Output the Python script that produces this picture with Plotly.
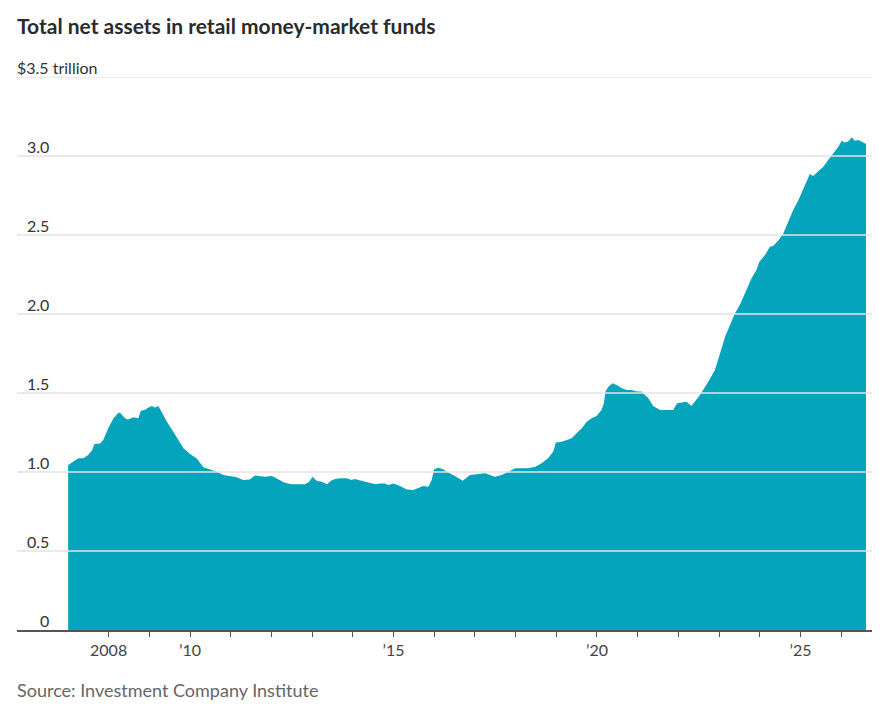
import plotly.graph_objects as go

# ICI retail money-market fund net assets, $ trillion
dates = [
    "2007-01-03", "2007-02-17", "2007-04-05", "2007-05-19", "2007-07-02", "2007-08-08",
    "2007-08-26", "2007-10-16", "2007-11-14", "2007-12-28", "2008-02-14", "2008-03-29",
    "2008-04-13", "2008-05-27", "2008-06-25", "2008-08-11", "2008-09-24", "2008-10-16",
    "2008-11-21", "2008-12-24", "2009-01-23", "2009-02-21", "2009-03-23", "2009-04-20",
    "2009-06-07", "2009-08-04", "2009-09-17", "2009-11-03", "2010-01-01", "2010-02-28",
    "2010-05-01", "2010-06-28", "2010-08-29", "2010-10-27", "2010-12-24", "2011-02-24",
    "2011-04-23", "2011-06-21", "2011-08-07", "2011-09-20", "2011-11-03", "2012-01-05",
    "2012-03-03", "2012-05-01", "2012-07-01", "2012-08-29", "2012-10-30", "2012-12-05",
    "2013-01-05", "2013-02-10", "2013-03-28", "2013-05-15", "2013-06-18", "2013-07-24",
    "2013-09-09", "2013-11-06", "2013-12-20", "2014-01-19", "2014-03-22", "2014-05-19",
    "2014-07-20", "2014-09-02", "2014-10-16", "2014-11-14", "2015-01-01", "2015-02-28",
    "2015-05-01", "2015-06-28", "2015-08-11", "2015-09-24", "2015-11-10", "2015-12-09",
    "2016-01-01", "2016-02-06", "2016-03-21", "2016-04-23", "2016-07-05", "2016-09-13",
    "2016-11-17", "2017-01-30", "2017-04-02", "2017-05-16", "2017-06-28", "2017-08-29",
    "2017-10-27", "2017-12-28", "2018-02-24", "2018-04-23", "2018-06-25", "2018-08-22",
    "2018-10-19", "2018-12-05", "2018-12-28", "2019-02-17", "2019-04-05", "2019-05-19",
    "2019-07-02", "2019-08-15", "2019-10-01", "2019-11-14", "2019-12-28", "2020-02-10",
    "2020-03-03", "2020-03-17", "2020-04-12", "2020-05-19", "2020-06-24", "2020-08-11",
    "2020-09-24", "2020-11-07", "2020-12-24", "2021-02-03", "2021-04-06", "2021-05-19",
    "2021-07-20", "2021-11-14", "2021-12-20", "2022-03-14", "2022-04-27", "2022-07-13",
    "2022-09-27", "2022-11-24", "2023-01-05", "2023-02-24", "2023-04-09", "2023-05-23",
    "2023-07-06", "2023-08-29", "2023-10-19", "2023-12-02", "2023-12-28", "2024-02-17",
    "2024-04-01", "2024-04-30", "2024-06-13", "2024-07-31", "2024-09-13", "2024-10-27",
    "2024-12-13", "2025-01-19", "2025-02-24", "2025-03-25", "2025-04-23", "2025-06-10",
    "2025-07-24", "2025-09-06", "2025-10-23", "2025-12-06", "2026-01-05", "2026-02-03",
    "2026-03-04", "2026-04-06", "2026-05-01", "2026-06-03", "2026-07-02", "2026-08-11",
]
assets = [
    1.044, 1.065, 1.087, 1.087, 1.108, 1.139,
    1.177, 1.181, 1.203, 1.276, 1.340, 1.375,
    1.375, 1.340, 1.333, 1.346, 1.340, 1.388,
    1.392, 1.409, 1.418, 1.409, 1.418, 1.382,
    1.318, 1.255, 1.203, 1.150, 1.114, 1.087,
    1.030, 1.017, 1.002, 0.981, 0.975, 0.966,
    0.949, 0.952, 0.978, 0.975, 0.970, 0.975,
    0.954, 0.932, 0.922, 0.922, 0.922, 0.939,
    0.970, 0.945, 0.939, 0.922, 0.945, 0.956,
    0.960, 0.960, 0.949, 0.956, 0.945, 0.935,
    0.922, 0.928, 0.928, 0.918, 0.928, 0.911,
    0.890, 0.886, 0.897, 0.911, 0.907, 0.949,
    1.017, 1.027, 1.017, 1.002, 0.975, 0.945,
    0.981, 0.987, 0.992, 0.981, 0.970, 0.981,
    1.002, 1.023, 1.023, 1.023, 1.034, 1.055,
    1.087, 1.129, 1.186, 1.192, 1.203, 1.213,
    1.245, 1.276, 1.318, 1.340, 1.354, 1.392,
    1.435, 1.509, 1.540, 1.561, 1.551, 1.530,
    1.519, 1.519, 1.509, 1.509, 1.466, 1.418,
    1.392, 1.392, 1.435, 1.445, 1.418, 1.487,
    1.572, 1.646, 1.741, 1.857, 1.930, 2.004,
    2.057, 2.141, 2.226, 2.278, 2.331, 2.373,
    2.426, 2.430, 2.464, 2.511, 2.584, 2.658,
    2.722, 2.785, 2.848, 2.886, 2.873, 2.901,
    2.932, 2.975, 3.017, 3.059, 3.097, 3.085,
    3.091, 3.118, 3.097, 3.101, 3.091, 3.076,
]

y_ticks = [0, 0.5, 1.0, 1.5, 2.0, 2.5, 3.0, 3.5]
y_labels = ["0", "0.5", "1.0", "1.5", "2.0", "2.5", "3.0", "$3.5 trillion"]

tick_years = list(range(2008, 2027))
year_labels = {2008: "2008", 2010: "\u201910", 2015: "\u201915", 2020: "\u201920", 2025: "\u201925"}

TEAL = "#05a4bd"
FONT = "Lato"

fig = go.Figure()
fig.add_trace(go.Scatter(
    x=dates, y=assets, mode="lines", fill="tozeroy",
    fillcolor=TEAL, line=dict(width=0, color=TEAL),
    hoverinfo="x+y", showlegend=False,
))

# gridlines sit on top of the area in the original
for v in y_ticks[1:]:
    fig.add_shape(type="line", xref="paper", yref="y", x0=0, x1=1, y0=v, y1=v,
                  line=dict(color="#e3e3e3", width=1.5), layer="above")

for v, lab in zip(y_ticks, y_labels):
    last = lab.startswith("$")
    fig.add_annotation(
        xref="paper", yref="y", x=0 if last else 0.0398, y=v,
        xanchor="left" if last else "right", yanchor="bottom",
        text=lab, showarrow=False, xshift=-2 if last else 0, yshift=-2,
        font=dict(family=FONT, size=16, color="#333333"),
    )

fig.add_annotation(
    xref="paper", yref="paper", x=0, y=1, yshift=37, xshift=-2,
    xanchor="left", yanchor="bottom",
    text="<b>Total net assets in retail money-market funds</b>", showarrow=False,
    font=dict(family=FONT, size=21, color="#2b2b2b"),
)
fig.add_annotation(
    xref="paper", yref="paper", x=0, y=0, yshift=-73, xshift=-2,
    xanchor="left", yanchor="bottom",
    text="Source: Investment Company Institute", showarrow=False,
    font=dict(family=FONT, size=18, color="#666666"),
)

fig.update_layout(
    width=880, height=698,
    margin=dict(l=9, r=16, t=69, b=76),
    paper_bgcolor="white", plot_bgcolor="white",
    font=dict(family=FONT, size=16, color="#333333"),
    xaxis=dict(
        type="date", range=["2005-10-01", "2026-10-04"],
        tickvals=[f"{y}-01-01" for y in tick_years],
        ticktext=[year_labels.get(y, "") for y in tick_years],
        ticks="outside", ticklen=5, tickwidth=1, tickcolor="#555555",
        showline=True, linecolor="#555555", linewidth=2,
        showgrid=False, zeroline=False, layer="above traces",
        tickfont=dict(family=FONT, size=16, color="#444444"),
    ),
    yaxis=dict(
        range=[0, 3.5], showticklabels=False, showgrid=False,
        zeroline=False, showline=False, ticks="",
    ),
)

fig.write_html("out.html")
